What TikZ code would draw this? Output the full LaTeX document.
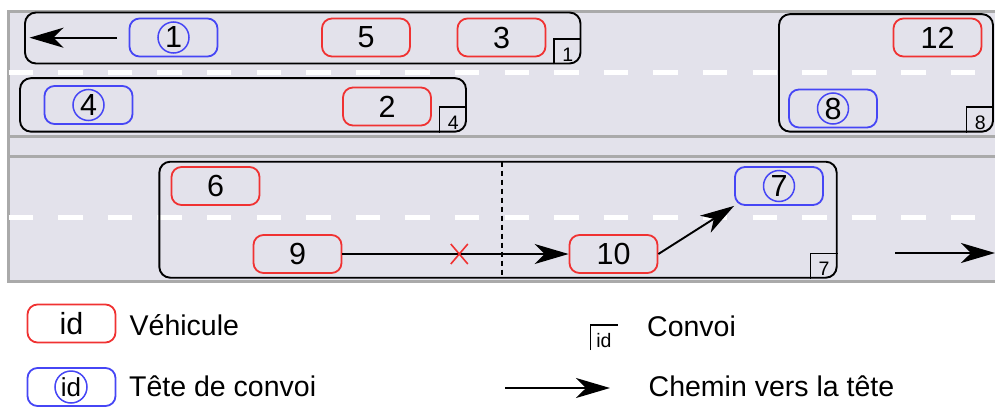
\documentclass[tikz,border=0pt]{standalone}
\usepackage{fontspec}
\setmainfont{Liberation Sans}
\usetikzlibrary{arrows.meta}
\definecolor{roadfill}{HTML}{E3E2EB}
\definecolor{roadedge}{HTML}{AAAAAA}
\definecolor{vred}{HTML}{F03232}
\definecolor{vblue}{HTML}{4646F5}
\begin{document}
\begin{tikzpicture}[x=1pt,y=-1pt,
  veh/.style={draw=vred, line width=1.8pt, rounded corners=10pt, minimum width=88pt, minimum height=38pt, inner sep=0pt, font=\fontsize{30.5}{32}\selectfont},
  headveh/.style={veh, draw=vblue},
  headcirc/.style={circle, draw=vblue, line width=1.5pt, minimum size=31pt, inner sep=0pt, font=\fontsize{30.5}{32}\selectfont},
  convoy/.style={draw=black, line width=1.9pt, rounded corners=11pt, inner sep=0pt},
  convlab/.style={minimum width=27pt, minimum height=25pt, inner sep=0pt, text height=19pt, text depth=0pt, font=\fontsize{19.5}{21}\selectfont},
  labedge/.style={draw=black, line width=1.5pt},
  tohead/.style={-{Stealth[length=34pt,width=20pt,inset=10pt]}, line width=1.9pt},
  legtext/.style={anchor=base west, inner sep=0pt, font=\fontsize{28.5}{30}\selectfont},
  lanemark/.style={white, line width=5pt, dash pattern=on 24.5pt off 25.1pt},
  roadline/.style={roadedge, line width=3pt}
]
\useasboundingbox (0,0) rectangle (995,407);
% road
\fill[roadfill] (8.5,11) rectangle (995,281.5);
\draw[roadline] (995,11) -- (8.5,11) -- (8.5,281.5) -- (995,281.5);
\draw[roadline] (8.5,136.5) -- (995,136.5);
\draw[roadline] (8.5,156.5) -- (995,156.5);
\draw[lanemark] (8.5,72.5) -- (976,72.5);
\draw[lanemark] (8.5,217) -- (976,217);

% convoys
\node[convoy, minimum width=555.5pt, minimum height=51pt] (b1) at (302.75,38) {};
\node[convoy, minimum width=446pt, minimum height=53.5pt] (b4) at (243,104.9) {};
\node[convoy, minimum width=214pt, minimum height=117.5pt] (b8) at (886,72.9) {};
\node[convoy, minimum width=677.4pt, minimum height=116pt] (b7) at (498,219.7) {};

\node[convlab, anchor=south east] (l1) at (b1.south east) {1};
\draw[labedge] (l1.south west) -- (l1.north west) -- (l1.north east);
\node[convlab, anchor=south east] (l4) at (b4.south east) {4};
\draw[labedge] (l4.south west) -- (l4.north west) -- (l4.north east);
\node[convlab, anchor=south east] (l8) at (b8.south east) {8};
\draw[labedge] (l8.south west) -- (l8.north west) -- (l8.north east);
\node[convlab, anchor=south east] (l7) at (b7.south east) {7};
\draw[labedge] (l7.south west) -- (l7.north west) -- (l7.north east);

% vehicles
\node[headveh] (v1) at (173.5,37.5) {};
\node[headcirc] (h1) at (v1) {1};
\node[veh] (v5) at (366,37.5) {5};
\node[veh] (v3) at (501.5,37.5) {3};
\node[headveh] (v4) at (88.5,105) {};
\node[headcirc] (h4) at (v4) {4};
\node[veh] (v2) at (387,106.5) {2};
\node[veh] (v12) at (937.5,37.5) {12};
\node[headveh] (v8) at (833,108.5) {};
\node[headcirc] (h8) at (v8) {8};
\node[veh] (v6) at (215.5,186) {6};
\node[veh] (v9) at (297.5,254) {9};
\node[veh] (v10) at (613.5,254) {10};
\node[headveh] (v7) at (779,186) {};
\node[headcirc] (h7) at (v7) {7};

% paths
\coordinate (a1s) at (117,37.7);
\coordinate (a1e) at (29.5,37.7);
\draw[tohead] (a1s) -- (a1e);
\draw[tohead] (v9.east) -- (v10.west);
\draw[tohead] (v10.east) -- (v7.south west);
\coordinate (cx) at (459.3,254);
\draw[vred, line width=1.6pt] ([shift={(-8.5,-10)}]cx) -- ([shift={(8.5,10)}]cx)
  ([shift={(-8.5,10)}]cx) -- ([shift={(8.5,-10)}]cx);
\coordinate (dtop) at (502.3,161.7);
\coordinate (dbot) at (502.3,277.7);
\draw[line width=1.8pt, dash pattern=on 5pt off 4pt] (dtop) -- (dbot);
\coordinate (r1) at (895,253);
\coordinate (r2) at (995,253);
\draw[tohead] (r1) -- (r2);

% legend
\node[veh] (lv) at (71.5,323.5) {id};
\node[legtext] (lvt) at (129.5,335) {Véhicule};
\node[headveh] (lh) at (71.5,387) {};
\node[headcirc, minimum size=32pt, font=\fontsize{26}{28}\selectfont] (lhc) at (71,387) {id};
\node[legtext] (lht) at (129,396.7) {Tête de convoi};
\node[convlab] (lc) at (604,337.5) {id};
\draw[labedge] (lc.south west) -- (lc.north west) -- (lc.north east);
\node[legtext] (lct) at (647,336.7) {Convoi};
\coordinate (la1) at (505,388);
\coordinate (la2) at (610,388);
\draw[tohead] (la1) -- (la2);
\node[legtext] (lat) at (648.5,396.7) {Chemin vers la tête};
\end{tikzpicture}
\end{document}
